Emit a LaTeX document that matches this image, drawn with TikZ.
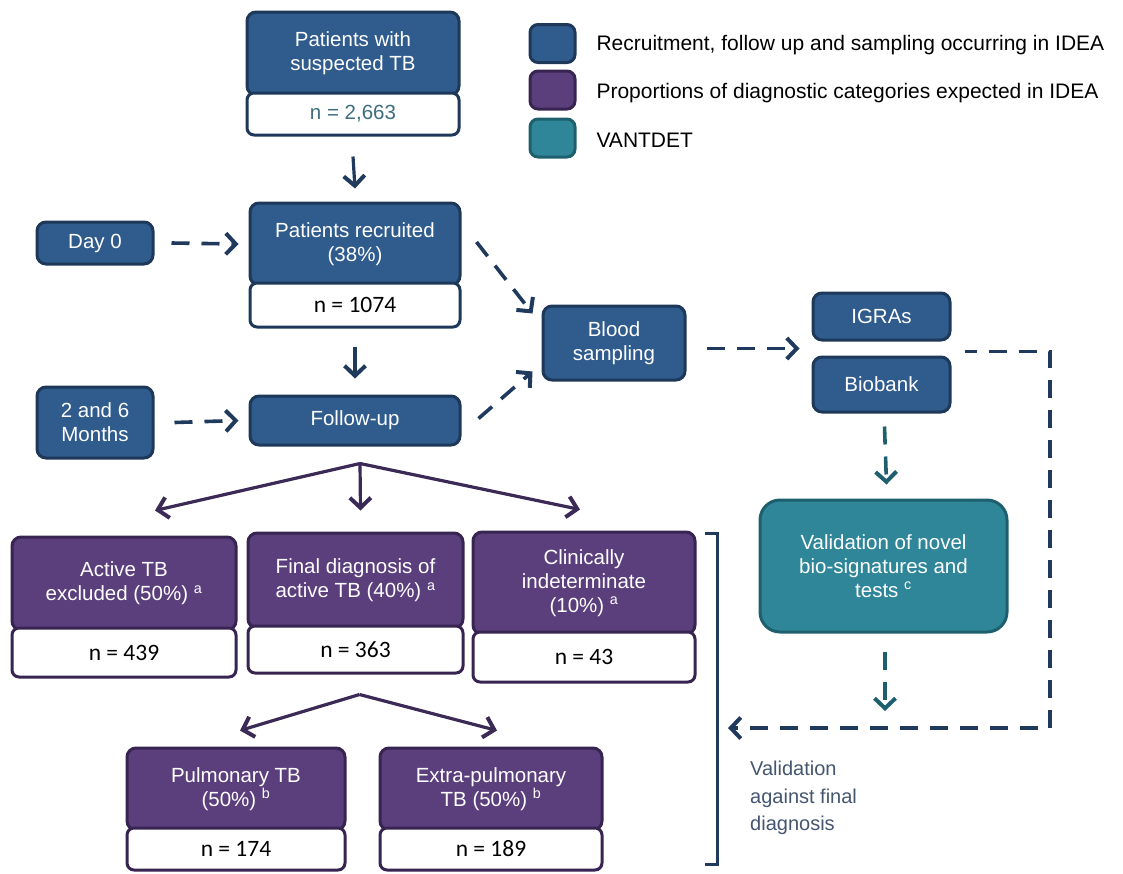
\documentclass[tikz,border=0pt]{standalone}
\usepackage{fontspec}
\setmainfont{Liberation Sans}
\newfontfamily\carlito{Carlito}
\usetikzlibrary{arrows.meta,calc}
\definecolor{cblue}{HTML}{2F5B8D}
\definecolor{cblueD}{HTML}{1D3858}
\definecolor{cpurp}{HTML}{5B3F7D}
\definecolor{cpurpD}{HTML}{382450}
\definecolor{cteal}{HTML}{2E8698}
\definecolor{ctealD}{HTML}{1E5F6E}
\definecolor{cnavy}{HTML}{1F3A5C}
\definecolor{cparr}{HTML}{3A2A55}
\definecolor{cgray}{HTML}{44556F}
\definecolor{cntxt}{HTML}{3E6E7E}
\tikzset{
  box/.style={rounded corners=9pt, line width=3pt, align=center, text=white, inner sep=2pt,
    font=\fontsize{20.5}{24}\selectfont},
  bluebox/.style={box, fill=cblue, draw=cblueD},
  purpbox/.style={box, fill=cpurp, draw=cpurpD},
  tealbox/.style={box, fill=cteal, draw=ctealD},
  nbox/.style={rounded corners=7pt, line width=3pt, fill=white, inner sep=2pt,
    font=\carlito\fontsize{23.5}{26}\selectfont},
  legbox/.style={rounded corners=8pt, line width=3pt, minimum width=45, minimum height=38},
  legtxt/.style={anchor=west, text=black, font=\fontsize{21}{24}\selectfont},
  sarr/.style={line width=3.2pt, -{Straight Barb[length=10pt,width=21pt,line width=4pt]}},
  darr/.style={line width=3.6pt, dash pattern=on 18pt off 12pt, -{Straight Barb[length=10pt,width=21pt,line width=4pt]}},
  sz/.style 2 args={minimum width=#1, minimum height=#2}
}
\begin{document}
\begin{tikzpicture}[x=1pt,y=-1pt]
\useasboundingbox (0,0) rectangle (1123,873);
% legend
\node[legbox, fill=cblue, draw=cblueD] (lg1) at (552.5,43.5) {};
\node[legbox, fill=cpurp, draw=cpurpD] (lg2) at (552.5,90) {};
\node[legbox, fill=cteal, draw=ctealD] (lg3) at (552.5,138) {};
\node[legtxt] (lt1) at (593,45) {Recruitment, follow up and sampling occurring in IDEA};
\node[legtxt] (lt2) at (593,93) {Proportions of diagnostic categories expected in IDEA};
\node[legtxt] (lt3) at (593,140) {VANTDET};
% top
\node[bluebox, sz={212}{83}] (pst) at (353,53.5) {Patients with\\suspected TB};
\node[nbox, draw=cblueD, sz={212}{42}, text=cntxt, font=\fontsize{20.5}{24}\selectfont] (n1) at (353,114) {n = 2,663};
\node[bluebox, sz={210}{82}] (rec) at (355,244) {Patients recruited\\(38\%)};
\node[nbox, draw=cblueD, sz={210}{44}] (n2) at (355,305) {n = 1074};
\node[bluebox, sz={116}{42}] (day0) at (95,243) {Day 0};
\node[bluebox, sz={116}{71}] (mon) at (95,422.5) {2 and 6\\Months};
\node[bluebox, sz={210}{49}] (fu) at (355,420.5) {Follow-up};
\node[bluebox, sz={142}{74}] (blood) at (614,343) {Blood\\sampling};
\node[bluebox, sz={137}{47}] (igra) at (881.5,316.5) {IGRAs};
\node[bluebox, sz={137}{55}] (bio) at (881.5,384.5) {Biobank};
\node[tealbox, sz={247}{132}, rounded corners=20pt] (val) at (883.5,566) {Validation of novel\\bio-signatures and\\tests \textsuperscript{c}};
% diagnostic categories
\node[purpbox, sz={224}{93}] (act) at (124,583.5) {Active TB\\excluded (50\%) \textsuperscript{a}};
\node[nbox, draw=cpurpD, sz={224}{49}] (nact) at (124,652.5) {n = 439};
\node[purpbox, sz={215}{95}] (fin) at (355.5,580.5) {Final diagnosis of\\active TB (40\%) \textsuperscript{a}};
\node[nbox, draw=cpurpD, sz={215}{47}] (nfin) at (355.5,649.5) {n = 363};
\node[purpbox, sz={222}{102}] (clin) at (584,583) {Clinically\\indeterminate\\(10\%) \textsuperscript{a}};
\node[nbox, draw=cpurpD, sz={222}{50}] (nclin) at (584,657) {n = 43};
\node[purpbox, sz={218}{82}] (pul) at (236,789) {Pulmonary TB\\(50\%) \textsuperscript{b}};
\node[nbox, draw=cpurpD, sz={218}{42}] (npul) at (236,849) {n = 174};
\node[purpbox, sz={222}{82}] (ext) at (491,789) {Extra-pulmonary\\TB (50\%) \textsuperscript{b}};
\node[nbox, draw=cpurpD, sz={222}{42}] (next) at (491,849) {n = 189};
% bracket and label
\coordinate (brt) at (717,533);
\coordinate (brb) at (717,864);
\draw[cnavy, line width=3pt] ([shift={(-12,0)}]brt) -- (brt) -- (brb) -- ([shift={(-12,0)}]brb);
\coordinate (brin) at (717,728);
\coordinate (vcorner) at (1050,728);
\coordinate (vjoin) at (885,728);
\node[anchor=north west, align=left, text=cgray, font=\fontsize{20}{27.5}\selectfont, inner sep=0pt] (vlab) at (750,761) {Validation\\against final\\diagnosis};
% solid arrows
\draw[sarr, cnavy] ([shift={(0,20)}]n1.south) -- ([shift={(0,-13)}]rec.north);
\draw[sarr, cnavy] ([shift={(0,18)}]n2.south) -- ([shift={(0,-16)}]fu.north);
\coordinate (fanA) at ([shift={(5,17)}]fu.south);
\draw[sarr, cparr] (fanA) -- ([shift={(31,-25)}]act.north);
\draw[sarr, cparr] (fanA) -- ([shift={(5,-21)}]fin.north);
\draw[sarr, cparr] (fanA) -- ([shift={(-4,-21)}]clin.north);
\coordinate (fanB) at ([shift={(4,20)}]nfin.south);
\draw[sarr, cparr] (fanB) -- ([shift={(4,-16)}]pul.north);
\draw[sarr, cparr] (fanB) -- ([shift={(6,-16)}]ext.north);
% dashed arrows
\draw[darr, cnavy] ([shift={(17,0)}]day0.east) -- ([shift={(-10,0)}]rec.west);
\draw[darr, cnavy] ([shift={(20,0)}]mon.east) -- ([shift={(-10,0)}]fu.west);
\draw[darr, cnavy] ([shift={(15,-2)}]rec.east) -- ([shift={(-9,9)}]blood.north west);
\draw[darr, cnavy] ([shift={(17,-2)}]fu.east) -- ([shift={(-9,-10)}]blood.south west);
\coordinate (bi) at ($(igra.south west)!.5!(bio.north west)$);
\draw[darr, cnavy] ([shift={(20,0)}]blood.east |- bi) -- ([shift={(-12,0)}]bi);
\draw[darr, ctealD] ([shift={(3,13)}]bio.south) -- ([shift={(3,-14)}]val.north);
\draw[darr, ctealD] ([shift={(1.5,18)}]val.south) -- ([shift={(0,-17)}]vjoin);
\draw[darr, cnavy, dash phase=6pt] ([shift={(13,10)}]igra.south east) -| (vcorner) -- ([shift={(11,0)}]brin);
\end{tikzpicture}
\end{document}
